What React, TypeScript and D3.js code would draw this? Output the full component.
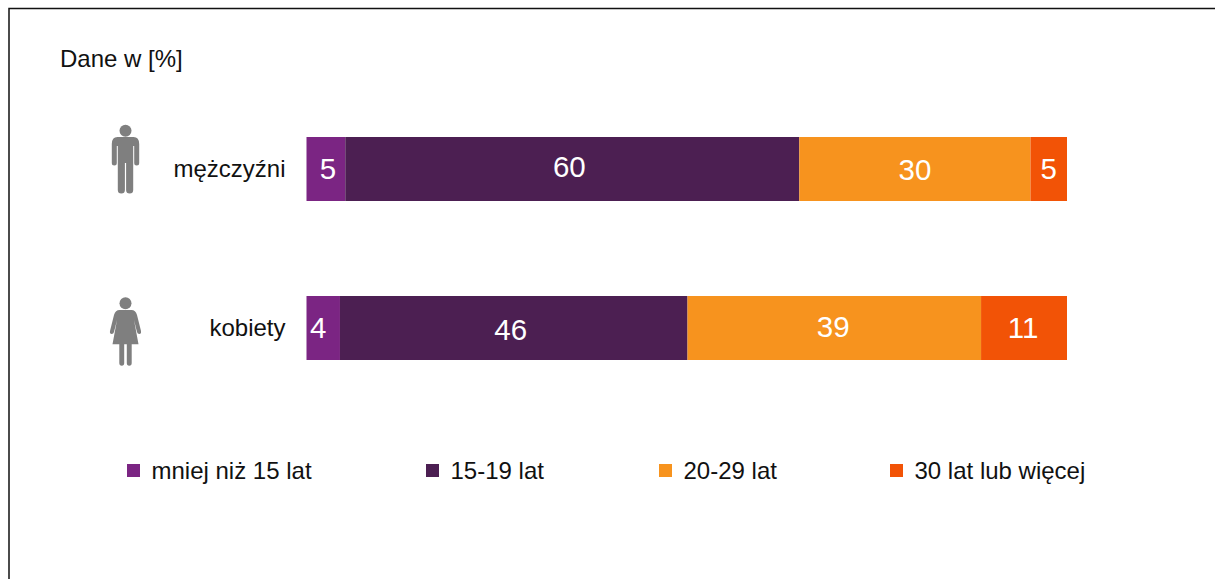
import React from "react";
import * as d3 from "d3";

const groups = ["mężczyźni", "kobiety"];
const ageBands = ["mniej niż 15 lat", "15-19 lat", "20-29 lat", "30 lat lub więcej"];
const men = [5.1, 59.7, 30.4, 4.8];
const women = [4.4, 45.7, 38.6, 11.3];
const colors = ["#7b2583", "#4c1f52", "#f7931e", "#f25306"];

const W = 1215;
const H = 579;
const font = "Arial, 'Liberation Sans', sans-serif";

// labels in the original are hand placed, not quite centred
const labelNudge = [
    [[2, 0], [-3, -2], [0, 1], [0, 0]],
    [[-5, 0], [-3, 2], [-1, -1], [-1, 0]],
];
const legendLeft = [127, 426, 659, 890];

const x = d3.scaleLinear().domain([0, 100]).range([306.5, 1067]);
const y = d3.scaleBand().domain(groups).range([137, 360]).paddingInner(0.5975);

const Man = ({ transform }: { transform: string }) => (
    <g transform={transform} fill="#7f7f7f">
        <circle cx="0" cy="-29.3" r="6" />
        <path d="M-8,-23 H8 Q13.7,-23 13.7,-16 V3 Q13.7,5.5 11.2,5.5 Q8.7,5.5 8.7,3 V-14 H7.7 V30 Q7.7,33.5 4.2,33.5 Q0.6,33.5 0.6,30 V3 H-0.6 V30 Q-0.6,33.5 -4.2,33.5 Q-7.7,33.5 -7.7,30 V-14 H-8.7 V3 Q-8.7,5.5 -11.2,5.5 Q-13.7,5.5 -13.7,3 V-16 Q-13.7,-23 -8,-23 Z" />
    </g>
);

const Woman = ({ transform }: { transform: string }) => (
    <g transform={transform} fill="#7f7f7f">
        <circle cx="0" cy="-28.7" r="6" />
        <path d="M-6,-22 H6 Q10,-22 11.5,-17 L15.5,-1 Q16,2 13.8,2 Q12,2 11.5,0 L8.5,-12 L13,12.3 H6.2 V31 Q6.2,33.7 3.7,33.7 Q1.3,33.7 1.3,31 V12.3 H-1.3 V31 Q-1.3,33.7 -3.7,33.7 Q-6.2,33.7 -6.2,31 V12.3 H-13 L-8.5,-12 L-11.5,0 Q-12,2 -13.8,2 Q-16,2 -15.5,-1 L-11.5,-17 Q-10,-22 -6,-22 Z" />
    </g>
);

export default function App() {
    const rows = [men, women];
    const labelText = d3.format(".0f");

    return (
        <svg
            width={W}
            height={H}
            viewBox={`0 0 ${W} ${H}`}
            style={{ position: "fixed", left: 0, top: 0, background: "#fff" }}
            fontFamily={font}
        >
            <path d={`M9,${H} V8.5 H${W}`} fill="none" stroke="#111" strokeWidth="1.5" />

            <text x="60" y="67" fontSize="24" fill="#111">Dane w [%]</text>

            <Man transform="translate(125.5,160)" />
            <Woman transform="translate(125.5,332)" />

            {rows.map((vals, r) => {
                const stack = d3.cumsum(vals);
                const group = groups[r];
                const top = y(group) as number;
                const bh = y.bandwidth();
                return (
                    <g key={group}>
                        <text x="285.5" y={top + bh / 2 + 8} textAnchor="end" fontSize="24" fill="#111">
                            {group}
                        </text>
                        {vals.map((v, i) => {
                            const x0 = x(stack[i] - v);
                            const x1 = x(stack[i]);
                            const [dx, dy] = labelNudge[r][i];
                            return (
                                <g key={ageBands[i]}>
                                    <rect x={x0} y={top} width={x1 - x0} height={bh} fill={colors[i]} />
                                    <text
                                        x={(x0 + x1) / 2 + dx}
                                        y={top + bh / 2 + 10 + dy}
                                        textAnchor="middle"
                                        fontSize="29.5"
                                        fill="#fff"
                                    >
                                        {labelText(v)}
                                    </text>
                                </g>
                            );
                        })}
                    </g>
                );
            })}

            {ageBands.map((band, i) => (
                <g key={band}>
                    <rect x={legendLeft[i]} y="464" width="13" height="13" fill={colors[i]} />
                    <text x={legendLeft[i] + 24.5} y="479" fontSize="24" fill="#111">{band}</text>
                </g>
            ))}
        </svg>
    );
}
